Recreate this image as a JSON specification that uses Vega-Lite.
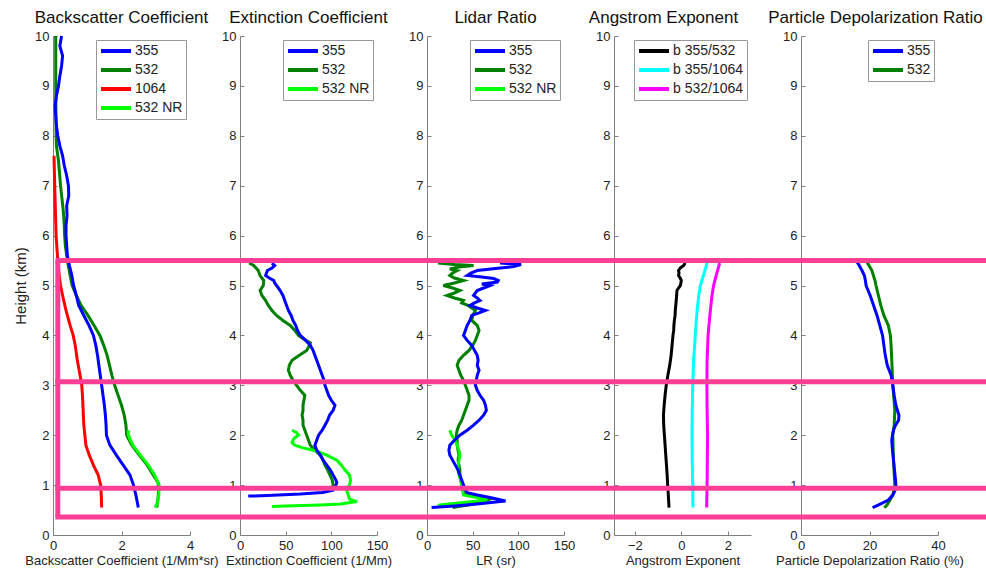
{
"$schema": "https://vega.github.io/schema/vega-lite/v6.json",
"padding": {"left": 13, "top": 9, "right": 0, "bottom": 2},
"bounds": "flush",
"spacing": 50,
"config": {
 "font": "Liberation Sans",
 "view": {"stroke": null},
 "axis": {"grid": false, "domainColor": "#7f7f7f", "tickColor": "#7f7f7f", "tickSize": -4, "labelPadding": 8, "labelFontSize": 13, "labelColor": "#222", "titleFontSize": 13, "titleFontWeight": "normal", "titleColor": "#222", "labelFlush": false, "labelOverlap": false},
 "axisY": {"titlePadding": 6, "titleFontSize": 15},
 "axisX": {"titlePadding": 2},
 "title": {"fontSize": 17, "fontWeight": "normal", "color": "#111", "offset": 3},
 "legend": {"orient": "top-right", "offset": 4, "fillColor": "white", "strokeColor": "#999", "padding": 3, "symbolType": "M-1,0H4", "symbolSize": 144, "symbolStrokeWidth": 4, "labelOffset": 20, "labelFontSize": 14, "labelColor": "#222", "rowPadding": 3}
},
"resolve": {"scale": {"color": "independent", "x": "independent"}, "legend": {"color": "independent"}},
"datasets": {
"pink": [
{"p":"bsc","x1":0.07,"x2":4,"h":5.5,"h2":5.5},{"p":"bsc","x1":0.07,"x2":4,"h":3.07,"h2":3.07},{"p":"bsc","x1":0.07,"x2":4,"h":0.935,"h2":0.935},{"p":"bsc","x1":0.07,"x2":4,"h":0.36,"h2":0.36},{"p":"bsc","x1":0.14,"x2":0.14,"h":0.36,"h2":5.5},
{"p":"ext","x1":-54.74,"x2":150,"h":5.5,"h2":5.5},{"p":"ext","x1":-54.74,"x2":150,"h":3.07,"h2":3.07},{"p":"ext","x1":-54.74,"x2":150,"h":0.935,"h2":0.935},{"p":"ext","x1":-54.74,"x2":150,"h":0.36,"h2":0.36},
{"p":"lr","x1":-54.74,"x2":150,"h":5.5,"h2":5.5},{"p":"lr","x1":-54.74,"x2":150,"h":3.07,"h2":3.07},{"p":"lr","x1":-54.74,"x2":150,"h":0.935,"h2":0.935},{"p":"lr","x1":-54.74,"x2":150,"h":0.36,"h2":0.36},
{"p":"ae","x1":-5.053,"x2":3,"h":5.5,"h2":5.5},{"p":"ae","x1":-5.053,"x2":3,"h":3.07,"h2":3.07},{"p":"ae","x1":-5.053,"x2":3,"h":0.935,"h2":0.935},{"p":"ae","x1":-5.053,"x2":3,"h":0.36,"h2":0.36},
{"p":"pdr","x1":-14.6,"x2":54.3,"h":5.5,"h2":5.5},{"p":"pdr","x1":-14.6,"x2":54.3,"h":3.07,"h2":3.07},{"p":"pdr","x1":-14.6,"x2":54.3,"h":0.935,"h2":0.935},{"p":"pdr","x1":-14.6,"x2":54.3,"h":0.36,"h2":0.36}
],
"prof": [
{"p":"bsc","s":"532","h":10,"v":0.08},{"p":"bsc","s":"532","h":9,"v":0.08},{"p":"bsc","s":"532","h":8,"v":0.09},{"p":"bsc","s":"532","h":7.8,"v":0.1},{"p":"bsc","s":"532","h":7.5,"v":0.16},{"p":"bsc","s":"532","h":7.0,"v":0.22},{"p":"bsc","s":"532","h":6.5,"v":0.3},{"p":"bsc","s":"532","h":6.2,"v":0.33},{"p":"bsc","s":"532","h":6.0,"v":0.34},{"p":"bsc","s":"532","h":5.8,"v":0.36},{"p":"bsc","s":"532","h":5.5,"v":0.42},{"p":"bsc","s":"532","h":5.2,"v":0.5},{"p":"bsc","s":"532","h":5.0,"v":0.56},{"p":"bsc","s":"532","h":4.8,"v":0.68},{"p":"bsc","s":"532","h":4.6,"v":0.82},{"p":"bsc","s":"532","h":4.4,"v":1.02},{"p":"bsc","s":"532","h":4.2,"v":1.2},{"p":"bsc","s":"532","h":4.0,"v":1.37},{"p":"bsc","s":"532","h":3.8,"v":1.48},{"p":"bsc","s":"532","h":3.6,"v":1.58},{"p":"bsc","s":"532","h":3.4,"v":1.65},{"p":"bsc","s":"532","h":3.2,"v":1.72},{"p":"bsc","s":"532","h":3.0,"v":1.8},{"p":"bsc","s":"532","h":2.8,"v":1.9},{"p":"bsc","s":"532","h":2.6,"v":2.0},{"p":"bsc","s":"532","h":2.4,"v":2.08},{"p":"bsc","s":"532","h":2.2,"v":2.13},{"p":"bsc","s":"532","h":2.0,"v":2.15},{"p":"bsc","s":"532","h":1.8,"v":2.3},{"p":"bsc","s":"532","h":1.6,"v":2.52},{"p":"bsc","s":"532","h":1.4,"v":2.75},{"p":"bsc","s":"532","h":1.2,"v":2.93},{"p":"bsc","s":"532","h":1.05,"v":3.07},{"p":"bsc","s":"532","h":0.9,"v":3.08},{"p":"bsc","s":"532","h":0.75,"v":3.07},{"p":"bsc","s":"532","h":0.55,"v":3.03},
{"p":"bsc","s":"532 NR","h":2.1,"v":2.2},{"p":"bsc","s":"532 NR","h":2.0,"v":2.2},{"p":"bsc","s":"532 NR","h":1.8,"v":2.33},{"p":"bsc","s":"532 NR","h":1.6,"v":2.55},{"p":"bsc","s":"532 NR","h":1.4,"v":2.78},{"p":"bsc","s":"532 NR","h":1.2,"v":2.97},{"p":"bsc","s":"532 NR","h":1.0,"v":3.1},{"p":"bsc","s":"532 NR","h":0.8,"v":3.09},{"p":"bsc","s":"532 NR","h":0.65,"v":3.05},{"p":"bsc","s":"532 NR","h":0.55,"v":2.98},
{"p":"bsc","s":"1064","h":7.6,"v":0.03},{"p":"bsc","s":"1064","h":7.0,"v":0.05},{"p":"bsc","s":"1064","h":6.5,"v":0.07},{"p":"bsc","s":"1064","h":6.0,"v":0.09},{"p":"bsc","s":"1064","h":5.5,"v":0.14},{"p":"bsc","s":"1064","h":5.2,"v":0.18},{"p":"bsc","s":"1064","h":5.0,"v":0.22},{"p":"bsc","s":"1064","h":4.8,"v":0.28},{"p":"bsc","s":"1064","h":4.5,"v":0.38},{"p":"bsc","s":"1064","h":4.2,"v":0.5},{"p":"bsc","s":"1064","h":4.0,"v":0.59},{"p":"bsc","s":"1064","h":3.8,"v":0.65},{"p":"bsc","s":"1064","h":3.5,"v":0.71},{"p":"bsc","s":"1064","h":3.2,"v":0.79},{"p":"bsc","s":"1064","h":3.0,"v":0.84},{"p":"bsc","s":"1064","h":2.8,"v":0.86},{"p":"bsc","s":"1064","h":2.5,"v":0.88},{"p":"bsc","s":"1064","h":2.2,"v":0.9},{"p":"bsc","s":"1064","h":2.0,"v":0.93},{"p":"bsc","s":"1064","h":1.8,"v":0.96},{"p":"bsc","s":"1064","h":1.6,"v":1.06},{"p":"bsc","s":"1064","h":1.4,"v":1.18},{"p":"bsc","s":"1064","h":1.2,"v":1.32},{"p":"bsc","s":"1064","h":1.0,"v":1.39},{"p":"bsc","s":"1064","h":0.8,"v":1.41},{"p":"bsc","s":"1064","h":0.55,"v":1.42},
{"p":"bsc","s":"355","h":10,"v":0.25},{"p":"bsc","s":"355","h":9.8,"v":0.2},{"p":"bsc","s":"355","h":9.6,"v":0.28},{"p":"bsc","s":"355","h":9.4,"v":0.25},{"p":"bsc","s":"355","h":9.2,"v":0.2},{"p":"bsc","s":"355","h":9.0,"v":0.16},{"p":"bsc","s":"355","h":8.8,"v":0.1},{"p":"bsc","s":"355","h":8.6,"v":0.06},{"p":"bsc","s":"355","h":8.4,"v":0.08},{"p":"bsc","s":"355","h":8.2,"v":0.1},{"p":"bsc","s":"355","h":8.0,"v":0.14},{"p":"bsc","s":"355","h":7.8,"v":0.2},{"p":"bsc","s":"355","h":7.6,"v":0.28},{"p":"bsc","s":"355","h":7.4,"v":0.33},{"p":"bsc","s":"355","h":7.2,"v":0.4},{"p":"bsc","s":"355","h":7.0,"v":0.45},{"p":"bsc","s":"355","h":6.8,"v":0.46},{"p":"bsc","s":"355","h":6.6,"v":0.4},{"p":"bsc","s":"355","h":6.4,"v":0.41},{"p":"bsc","s":"355","h":6.2,"v":0.38},{"p":"bsc","s":"355","h":6.0,"v":0.38},{"p":"bsc","s":"355","h":5.8,"v":0.4},{"p":"bsc","s":"355","h":5.6,"v":0.42},{"p":"bsc","s":"355","h":5.4,"v":0.48},{"p":"bsc","s":"355","h":5.2,"v":0.55},{"p":"bsc","s":"355","h":5.0,"v":0.6},{"p":"bsc","s":"355","h":4.8,"v":0.68},{"p":"bsc","s":"355","h":4.6,"v":0.75},{"p":"bsc","s":"355","h":4.4,"v":0.9},{"p":"bsc","s":"355","h":4.2,"v":1.05},{"p":"bsc","s":"355","h":4.0,"v":1.18},{"p":"bsc","s":"355","h":3.8,"v":1.25},{"p":"bsc","s":"355","h":3.6,"v":1.3},{"p":"bsc","s":"355","h":3.4,"v":1.34},{"p":"bsc","s":"355","h":3.2,"v":1.38},{"p":"bsc","s":"355","h":3.0,"v":1.42},{"p":"bsc","s":"355","h":2.8,"v":1.46},{"p":"bsc","s":"355","h":2.6,"v":1.5},{"p":"bsc","s":"355","h":2.4,"v":1.53},{"p":"bsc","s":"355","h":2.2,"v":1.55},{"p":"bsc","s":"355","h":2.0,"v":1.56},{"p":"bsc","s":"355","h":1.8,"v":1.66},{"p":"bsc","s":"355","h":1.6,"v":1.85},{"p":"bsc","s":"355","h":1.4,"v":2.05},{"p":"bsc","s":"355","h":1.2,"v":2.25},{"p":"bsc","s":"355","h":1.0,"v":2.35},{"p":"bsc","s":"355","h":0.8,"v":2.42},{"p":"bsc","s":"355","h":0.55,"v":2.49},

{"p":"ext","s":"532","h":5.45,"v":10},{"p":"ext","s":"532","h":5.4,"v":15},{"p":"ext","s":"532","h":5.3,"v":20},{"p":"ext","s":"532","h":5.2,"v":22},{"p":"ext","s":"532","h":5.1,"v":26},{"p":"ext","s":"532","h":5.0,"v":25.5},{"p":"ext","s":"532","h":4.9,"v":22},{"p":"ext","s":"532","h":4.8,"v":24},{"p":"ext","s":"532","h":4.7,"v":28},{"p":"ext","s":"532","h":4.6,"v":31},{"p":"ext","s":"532","h":4.5,"v":35},{"p":"ext","s":"532","h":4.4,"v":40},{"p":"ext","s":"532","h":4.3,"v":47},{"p":"ext","s":"532","h":4.2,"v":55},{"p":"ext","s":"532","h":4.1,"v":60},{"p":"ext","s":"532","h":4.0,"v":64},{"p":"ext","s":"532","h":3.9,"v":72},{"p":"ext","s":"532","h":3.85,"v":77},{"p":"ext","s":"532","h":3.8,"v":76},{"p":"ext","s":"532","h":3.7,"v":73},{"p":"ext","s":"532","h":3.6,"v":65},{"p":"ext","s":"532","h":3.5,"v":57},{"p":"ext","s":"532","h":3.4,"v":54},{"p":"ext","s":"532","h":3.3,"v":53},{"p":"ext","s":"532","h":3.2,"v":55},{"p":"ext","s":"532","h":3.1,"v":58},{"p":"ext","s":"532","h":3.0,"v":62},{"p":"ext","s":"532","h":2.9,"v":66},{"p":"ext","s":"532","h":2.8,"v":71},{"p":"ext","s":"532","h":2.7,"v":70},{"p":"ext","s":"532","h":2.6,"v":69},{"p":"ext","s":"532","h":2.5,"v":69},{"p":"ext","s":"532","h":2.4,"v":68},{"p":"ext","s":"532","h":2.3,"v":69},{"p":"ext","s":"532","h":2.2,"v":69},{"p":"ext","s":"532","h":2.1,"v":71},{"p":"ext","s":"532","h":2.0,"v":73},{"p":"ext","s":"532","h":1.9,"v":75},{"p":"ext","s":"532","h":1.8,"v":77},{"p":"ext","s":"532","h":1.7,"v":82},{"p":"ext","s":"532","h":1.6,"v":88},{"p":"ext","s":"532","h":1.5,"v":91},{"p":"ext","s":"532","h":1.4,"v":93},{"p":"ext","s":"532","h":1.3,"v":96},{"p":"ext","s":"532","h":1.2,"v":98.5},{"p":"ext","s":"532","h":1.1,"v":101},{"p":"ext","s":"532","h":1.0,"v":102},{"p":"ext","s":"532","h":0.9,"v":99},{"p":"ext","s":"532","h":0.85,"v":90},
{"p":"ext","s":"532 NR","h":2.1,"v":57},{"p":"ext","s":"532 NR","h":2.05,"v":62},{"p":"ext","s":"532 NR","h":2.0,"v":64},{"p":"ext","s":"532 NR","h":1.95,"v":60},{"p":"ext","s":"532 NR","h":1.9,"v":58},{"p":"ext","s":"532 NR","h":1.85,"v":57},{"p":"ext","s":"532 NR","h":1.8,"v":60},{"p":"ext","s":"532 NR","h":1.75,"v":68},{"p":"ext","s":"532 NR","h":1.7,"v":80},{"p":"ext","s":"532 NR","h":1.65,"v":88},{"p":"ext","s":"532 NR","h":1.6,"v":95},{"p":"ext","s":"532 NR","h":1.5,"v":106},{"p":"ext","s":"532 NR","h":1.4,"v":111},{"p":"ext","s":"532 NR","h":1.3,"v":115},{"p":"ext","s":"532 NR","h":1.2,"v":120},{"p":"ext","s":"532 NR","h":1.1,"v":121},{"p":"ext","s":"532 NR","h":1.0,"v":120},{"p":"ext","s":"532 NR","h":0.95,"v":117},{"p":"ext","s":"532 NR","h":0.88,"v":117},{"p":"ext","s":"532 NR","h":0.8,"v":118.5},{"p":"ext","s":"532 NR","h":0.72,"v":120},{"p":"ext","s":"532 NR","h":0.67,"v":128},{"p":"ext","s":"532 NR","h":0.62,"v":110},{"p":"ext","s":"532 NR","h":0.6,"v":88},{"p":"ext","s":"532 NR","h":0.58,"v":50},{"p":"ext","s":"532 NR","h":0.57,"v":35},
{"p":"ext","s":"355","h":5.45,"v":35},{"p":"ext","s":"355","h":5.4,"v":38},{"p":"ext","s":"355","h":5.35,"v":35},{"p":"ext","s":"355","h":5.3,"v":30},{"p":"ext","s":"355","h":5.2,"v":28},{"p":"ext","s":"355","h":5.15,"v":32},{"p":"ext","s":"355","h":5.1,"v":37},{"p":"ext","s":"355","h":5.05,"v":38},{"p":"ext","s":"355","h":5.0,"v":40},{"p":"ext","s":"355","h":4.9,"v":44},{"p":"ext","s":"355","h":4.8,"v":47},{"p":"ext","s":"355","h":4.7,"v":49},{"p":"ext","s":"355","h":4.6,"v":51},{"p":"ext","s":"355","h":4.5,"v":53},{"p":"ext","s":"355","h":4.4,"v":56},{"p":"ext","s":"355","h":4.3,"v":58},{"p":"ext","s":"355","h":4.2,"v":61},{"p":"ext","s":"355","h":4.1,"v":63},{"p":"ext","s":"355","h":4.0,"v":66},{"p":"ext","s":"355","h":3.9,"v":72},{"p":"ext","s":"355","h":3.8,"v":77},{"p":"ext","s":"355","h":3.7,"v":80},{"p":"ext","s":"355","h":3.6,"v":82},{"p":"ext","s":"355","h":3.5,"v":84},{"p":"ext","s":"355","h":3.4,"v":86},{"p":"ext","s":"355","h":3.3,"v":88},{"p":"ext","s":"355","h":3.2,"v":90},{"p":"ext","s":"355","h":3.1,"v":92},{"p":"ext","s":"355","h":3.0,"v":93},{"p":"ext","s":"355","h":2.9,"v":95},{"p":"ext","s":"355","h":2.8,"v":97},{"p":"ext","s":"355","h":2.7,"v":100},{"p":"ext","s":"355","h":2.6,"v":104},{"p":"ext","s":"355","h":2.5,"v":102},{"p":"ext","s":"355","h":2.4,"v":98},{"p":"ext","s":"355","h":2.3,"v":96},{"p":"ext","s":"355","h":2.2,"v":93},{"p":"ext","s":"355","h":2.1,"v":90},{"p":"ext","s":"355","h":2.0,"v":86},{"p":"ext","s":"355","h":1.9,"v":84},{"p":"ext","s":"355","h":1.8,"v":82},{"p":"ext","s":"355","h":1.7,"v":84},{"p":"ext","s":"355","h":1.6,"v":88},{"p":"ext","s":"355","h":1.5,"v":91},{"p":"ext","s":"355","h":1.4,"v":95},{"p":"ext","s":"355","h":1.3,"v":99},{"p":"ext","s":"355","h":1.2,"v":102},{"p":"ext","s":"355","h":1.1,"v":105},{"p":"ext","s":"355","h":1.05,"v":106},{"p":"ext","s":"355","h":1.0,"v":105},{"p":"ext","s":"355","h":0.9,"v":102},{"p":"ext","s":"355","h":0.85,"v":90},{"p":"ext","s":"355","h":0.82,"v":66},{"p":"ext","s":"355","h":0.79,"v":30},{"p":"ext","s":"355","h":0.78,"v":9},

{"p":"lr","s":"532","h":5.45,"v":12},{"p":"lr","s":"532","h":5.42,"v":30},{"p":"lr","s":"532","h":5.4,"v":51},{"p":"lr","s":"532","h":5.37,"v":35},{"p":"lr","s":"532","h":5.33,"v":25},{"p":"lr","s":"532","h":5.3,"v":33},{"p":"lr","s":"532","h":5.25,"v":28},{"p":"lr","s":"532","h":5.2,"v":25},{"p":"lr","s":"532","h":5.15,"v":30},{"p":"lr","s":"532","h":5.1,"v":40},{"p":"lr","s":"532","h":5.05,"v":30},{"p":"lr","s":"532","h":5.0,"v":18},{"p":"lr","s":"532","h":4.95,"v":28},{"p":"lr","s":"532","h":4.9,"v":36},{"p":"lr","s":"532","h":4.85,"v":30},{"p":"lr","s":"532","h":4.8,"v":22},{"p":"lr","s":"532","h":4.75,"v":30},{"p":"lr","s":"532","h":4.7,"v":40},{"p":"lr","s":"532","h":4.65,"v":38},{"p":"lr","s":"532","h":4.6,"v":45},{"p":"lr","s":"532","h":4.5,"v":53},{"p":"lr","s":"532","h":4.4,"v":50},{"p":"lr","s":"532","h":4.3,"v":49},{"p":"lr","s":"532","h":4.2,"v":55},{"p":"lr","s":"532","h":4.1,"v":57},{"p":"lr","s":"532","h":4.0,"v":55},{"p":"lr","s":"532","h":3.9,"v":53},{"p":"lr","s":"532","h":3.8,"v":50},{"p":"lr","s":"532","h":3.7,"v":46},{"p":"lr","s":"532","h":3.6,"v":40},{"p":"lr","s":"532","h":3.5,"v":35},{"p":"lr","s":"532","h":3.4,"v":33},{"p":"lr","s":"532","h":3.3,"v":35},{"p":"lr","s":"532","h":3.2,"v":37},{"p":"lr","s":"532","h":3.1,"v":40},{"p":"lr","s":"532","h":3.0,"v":42},{"p":"lr","s":"532","h":2.9,"v":44},{"p":"lr","s":"532","h":2.8,"v":46},{"p":"lr","s":"532","h":2.7,"v":46},{"p":"lr","s":"532","h":2.6,"v":44},{"p":"lr","s":"532","h":2.5,"v":42},{"p":"lr","s":"532","h":2.4,"v":40},{"p":"lr","s":"532","h":2.3,"v":38},{"p":"lr","s":"532","h":2.2,"v":35},{"p":"lr","s":"532","h":2.1,"v":33},{"p":"lr","s":"532","h":2.0,"v":32},{"p":"lr","s":"532","h":1.9,"v":33},{"p":"lr","s":"532","h":1.8,"v":33},{"p":"lr","s":"532","h":1.7,"v":34},{"p":"lr","s":"532","h":1.6,"v":35},{"p":"lr","s":"532","h":1.5,"v":34},{"p":"lr","s":"532","h":1.4,"v":35},{"p":"lr","s":"532","h":1.3,"v":36},{"p":"lr","s":"532","h":1.2,"v":36},{"p":"lr","s":"532","h":1.1,"v":37},{"p":"lr","s":"532","h":1.0,"v":38},{"p":"lr","s":"532","h":0.9,"v":39},{"p":"lr","s":"532","h":0.85,"v":40},{"p":"lr","s":"532","h":0.78,"v":55},{"p":"lr","s":"532","h":0.72,"v":69},{"p":"lr","s":"532","h":0.66,"v":60},{"p":"lr","s":"532","h":0.6,"v":45},{"p":"lr","s":"532","h":0.55,"v":28},
{"p":"lr","s":"532 NR","h":2.1,"v":25},{"p":"lr","s":"532 NR","h":2.0,"v":27},{"p":"lr","s":"532 NR","h":1.9,"v":31},{"p":"lr","s":"532 NR","h":1.8,"v":33},{"p":"lr","s":"532 NR","h":1.7,"v":35},{"p":"lr","s":"532 NR","h":1.6,"v":36},{"p":"lr","s":"532 NR","h":1.5,"v":35},{"p":"lr","s":"532 NR","h":1.4,"v":34},{"p":"lr","s":"532 NR","h":1.3,"v":34},{"p":"lr","s":"532 NR","h":1.2,"v":35},{"p":"lr","s":"532 NR","h":1.1,"v":37},{"p":"lr","s":"532 NR","h":1.0,"v":38},{"p":"lr","s":"532 NR","h":0.9,"v":39},{"p":"lr","s":"532 NR","h":0.8,"v":40},{"p":"lr","s":"532 NR","h":0.75,"v":55},{"p":"lr","s":"532 NR","h":0.7,"v":66},{"p":"lr","s":"532 NR","h":0.65,"v":40},{"p":"lr","s":"532 NR","h":0.6,"v":14},{"p":"lr","s":"532 NR","h":0.58,"v":12},
{"p":"lr","s":"355","h":5.45,"v":80},{"p":"lr","s":"355","h":5.42,"v":103},{"p":"lr","s":"355","h":5.38,"v":95},{"p":"lr","s":"355","h":5.33,"v":70},{"p":"lr","s":"355","h":5.3,"v":55},{"p":"lr","s":"355","h":5.25,"v":48},{"p":"lr","s":"355","h":5.2,"v":44},{"p":"lr","s":"355","h":5.17,"v":60},{"p":"lr","s":"355","h":5.14,"v":73},{"p":"lr","s":"355","h":5.1,"v":78},{"p":"lr","s":"355","h":5.07,"v":77},{"p":"lr","s":"355","h":5.03,"v":60},{"p":"lr","s":"355","h":5.0,"v":69},{"p":"lr","s":"355","h":4.95,"v":62},{"p":"lr","s":"355","h":4.9,"v":55},{"p":"lr","s":"355","h":4.85,"v":53},{"p":"lr","s":"355","h":4.8,"v":51},{"p":"lr","s":"355","h":4.75,"v":55},{"p":"lr","s":"355","h":4.7,"v":58},{"p":"lr","s":"355","h":4.65,"v":52},{"p":"lr","s":"355","h":4.6,"v":47},{"p":"lr","s":"355","h":4.55,"v":55},{"p":"lr","s":"355","h":4.5,"v":64},{"p":"lr","s":"355","h":4.45,"v":57},{"p":"lr","s":"355","h":4.4,"v":49},{"p":"lr","s":"355","h":4.3,"v":47},{"p":"lr","s":"355","h":4.2,"v":44},{"p":"lr","s":"355","h":4.1,"v":42},{"p":"lr","s":"355","h":4.0,"v":40},{"p":"lr","s":"355","h":3.9,"v":44},{"p":"lr","s":"355","h":3.8,"v":49},{"p":"lr","s":"355","h":3.7,"v":52},{"p":"lr","s":"355","h":3.6,"v":55},{"p":"lr","s":"355","h":3.5,"v":56},{"p":"lr","s":"355","h":3.4,"v":55},{"p":"lr","s":"355","h":3.3,"v":57},{"p":"lr","s":"355","h":3.2,"v":55},{"p":"lr","s":"355","h":3.1,"v":54},{"p":"lr","s":"355","h":3.0,"v":53},{"p":"lr","s":"355","h":2.9,"v":55},{"p":"lr","s":"355","h":2.8,"v":58},{"p":"lr","s":"355","h":2.7,"v":62},{"p":"lr","s":"355","h":2.6,"v":64},{"p":"lr","s":"355","h":2.5,"v":65},{"p":"lr","s":"355","h":2.4,"v":62},{"p":"lr","s":"355","h":2.3,"v":57},{"p":"lr","s":"355","h":2.2,"v":51},{"p":"lr","s":"355","h":2.1,"v":44},{"p":"lr","s":"355","h":2.0,"v":36},{"p":"lr","s":"355","h":1.9,"v":30},{"p":"lr","s":"355","h":1.8,"v":25},{"p":"lr","s":"355","h":1.7,"v":24},{"p":"lr","s":"355","h":1.6,"v":25},{"p":"lr","s":"355","h":1.5,"v":28},{"p":"lr","s":"355","h":1.4,"v":31},{"p":"lr","s":"355","h":1.3,"v":34},{"p":"lr","s":"355","h":1.2,"v":36},{"p":"lr","s":"355","h":1.1,"v":38},{"p":"lr","s":"355","h":1.0,"v":40},{"p":"lr","s":"355","h":0.9,"v":42},{"p":"lr","s":"355","h":0.85,"v":44},{"p":"lr","s":"355","h":0.8,"v":55},{"p":"lr","s":"355","h":0.75,"v":69},{"p":"lr","s":"355","h":0.68,"v":86},{"p":"lr","s":"355","h":0.65,"v":70},{"p":"lr","s":"355","h":0.62,"v":55},{"p":"lr","s":"355","h":0.58,"v":30},{"p":"lr","s":"355","h":0.55,"v":5},

{"p":"ae","s":"b 355/532","h":5.45,"v":0.17},{"p":"ae","s":"b 355/532","h":5.4,"v":0.1},{"p":"ae","s":"b 355/532","h":5.35,"v":-0.05},{"p":"ae","s":"b 355/532","h":5.3,"v":-0.12},{"p":"ae","s":"b 355/532","h":5.25,"v":-0.1},{"p":"ae","s":"b 355/532","h":5.2,"v":-0.12},{"p":"ae","s":"b 355/532","h":5.15,"v":-0.05},{"p":"ae","s":"b 355/532","h":5.1,"v":0.0},{"p":"ae","s":"b 355/532","h":5.05,"v":-0.02},{"p":"ae","s":"b 355/532","h":5.0,"v":-0.04},{"p":"ae","s":"b 355/532","h":4.95,"v":-0.12},{"p":"ae","s":"b 355/532","h":4.9,"v":-0.19},{"p":"ae","s":"b 355/532","h":4.8,"v":-0.2},{"p":"ae","s":"b 355/532","h":4.7,"v":-0.22},{"p":"ae","s":"b 355/532","h":4.6,"v":-0.24},{"p":"ae","s":"b 355/532","h":4.5,"v":-0.26},{"p":"ae","s":"b 355/532","h":4.4,"v":-0.27},{"p":"ae","s":"b 355/532","h":4.3,"v":-0.3},{"p":"ae","s":"b 355/532","h":4.2,"v":-0.32},{"p":"ae","s":"b 355/532","h":4.1,"v":-0.33},{"p":"ae","s":"b 355/532","h":4.0,"v":-0.36},{"p":"ae","s":"b 355/532","h":3.8,"v":-0.4},{"p":"ae","s":"b 355/532","h":3.6,"v":-0.44},{"p":"ae","s":"b 355/532","h":3.4,"v":-0.5},{"p":"ae","s":"b 355/532","h":3.2,"v":-0.58},{"p":"ae","s":"b 355/532","h":3.0,"v":-0.65},{"p":"ae","s":"b 355/532","h":2.8,"v":-0.7},{"p":"ae","s":"b 355/532","h":2.6,"v":-0.74},{"p":"ae","s":"b 355/532","h":2.4,"v":-0.77},{"p":"ae","s":"b 355/532","h":2.2,"v":-0.76},{"p":"ae","s":"b 355/532","h":2.0,"v":-0.73},{"p":"ae","s":"b 355/532","h":1.8,"v":-0.7},{"p":"ae","s":"b 355/532","h":1.6,"v":-0.67},{"p":"ae","s":"b 355/532","h":1.4,"v":-0.64},{"p":"ae","s":"b 355/532","h":1.2,"v":-0.61},{"p":"ae","s":"b 355/532","h":1.0,"v":-0.59},{"p":"ae","s":"b 355/532","h":0.8,"v":-0.56},{"p":"ae","s":"b 355/532","h":0.55,"v":-0.53},
{"p":"ae","s":"b 355/1064","h":5.45,"v":1.11},{"p":"ae","s":"b 355/1064","h":5.2,"v":0.95},{"p":"ae","s":"b 355/1064","h":5.0,"v":0.82},{"p":"ae","s":"b 355/1064","h":4.8,"v":0.75},{"p":"ae","s":"b 355/1064","h":4.5,"v":0.68},{"p":"ae","s":"b 355/1064","h":4.2,"v":0.63},{"p":"ae","s":"b 355/1064","h":4.0,"v":0.6},{"p":"ae","s":"b 355/1064","h":3.5,"v":0.53},{"p":"ae","s":"b 355/1064","h":3.0,"v":0.49},{"p":"ae","s":"b 355/1064","h":2.5,"v":0.47},{"p":"ae","s":"b 355/1064","h":2.0,"v":0.46},{"p":"ae","s":"b 355/1064","h":1.5,"v":0.47},{"p":"ae","s":"b 355/1064","h":1.0,"v":0.49},{"p":"ae","s":"b 355/1064","h":0.55,"v":0.5},
{"p":"ae","s":"b 532/1064","h":5.45,"v":1.65},{"p":"ae","s":"b 532/1064","h":5.2,"v":1.5},{"p":"ae","s":"b 532/1064","h":5.0,"v":1.39},{"p":"ae","s":"b 532/1064","h":4.8,"v":1.32},{"p":"ae","s":"b 532/1064","h":4.5,"v":1.25},{"p":"ae","s":"b 532/1064","h":4.2,"v":1.19},{"p":"ae","s":"b 532/1064","h":4.0,"v":1.15},{"p":"ae","s":"b 532/1064","h":3.5,"v":1.11},{"p":"ae","s":"b 532/1064","h":3.0,"v":1.1},{"p":"ae","s":"b 532/1064","h":2.5,"v":1.11},{"p":"ae","s":"b 532/1064","h":2.0,"v":1.13},{"p":"ae","s":"b 532/1064","h":1.5,"v":1.12},{"p":"ae","s":"b 532/1064","h":1.0,"v":1.11},{"p":"ae","s":"b 532/1064","h":0.55,"v":1.09},

{"p":"pdr","s":"532","h":5.5,"v":19},{"p":"pdr","s":"532","h":5.3,"v":20.7},{"p":"pdr","s":"532","h":5.1,"v":21.6},{"p":"pdr","s":"532","h":5.0,"v":21.9},{"p":"pdr","s":"532","h":4.8,"v":22.6},{"p":"pdr","s":"532","h":4.6,"v":23.3},{"p":"pdr","s":"532","h":4.4,"v":24.2},{"p":"pdr","s":"532","h":4.2,"v":25.5},{"p":"pdr","s":"532","h":4.0,"v":26.1},{"p":"pdr","s":"532","h":3.8,"v":26.3},{"p":"pdr","s":"532","h":3.5,"v":26.5},{"p":"pdr","s":"532","h":3.0,"v":26.8},{"p":"pdr","s":"532","h":2.5,"v":27.4},{"p":"pdr","s":"532","h":2.2,"v":27.2},{"p":"pdr","s":"532","h":2.0,"v":26.8},{"p":"pdr","s":"532","h":1.5,"v":27.0},{"p":"pdr","s":"532","h":1.0,"v":27.4},{"p":"pdr","s":"532","h":0.8,"v":26.8},{"p":"pdr","s":"532","h":0.7,"v":26.0},{"p":"pdr","s":"532","h":0.6,"v":25.1},{"p":"pdr","s":"532","h":0.55,"v":24.3},
{"p":"pdr","s":"355","h":5.5,"v":16.1},{"p":"pdr","s":"355","h":5.4,"v":17},{"p":"pdr","s":"355","h":5.3,"v":17.8},{"p":"pdr","s":"355","h":5.2,"v":18.5},{"p":"pdr","s":"355","h":5.1,"v":18.8},{"p":"pdr","s":"355","h":5.0,"v":19.0},{"p":"pdr","s":"355","h":4.8,"v":20.2},{"p":"pdr","s":"355","h":4.6,"v":21.2},{"p":"pdr","s":"355","h":4.4,"v":22.2},{"p":"pdr","s":"355","h":4.2,"v":23.0},{"p":"pdr","s":"355","h":4.0,"v":23.8},{"p":"pdr","s":"355","h":3.8,"v":24.2},{"p":"pdr","s":"355","h":3.6,"v":24.6},{"p":"pdr","s":"355","h":3.4,"v":25.2},{"p":"pdr","s":"355","h":3.2,"v":26.3},{"p":"pdr","s":"355","h":3.0,"v":26.8},{"p":"pdr","s":"355","h":2.8,"v":27.2},{"p":"pdr","s":"355","h":2.6,"v":27.7},{"p":"pdr","s":"355","h":2.4,"v":28.6},{"p":"pdr","s":"355","h":2.3,"v":28.5},{"p":"pdr","s":"355","h":2.2,"v":27.6},{"p":"pdr","s":"355","h":2.1,"v":27.0},{"p":"pdr","s":"355","h":2.0,"v":26.7},{"p":"pdr","s":"355","h":1.9,"v":26.5},{"p":"pdr","s":"355","h":1.7,"v":26.7},{"p":"pdr","s":"355","h":1.5,"v":27.0},{"p":"pdr","s":"355","h":1.3,"v":27.3},{"p":"pdr","s":"355","h":1.1,"v":27.6},{"p":"pdr","s":"355","h":1.0,"v":27.7},{"p":"pdr","s":"355","h":0.9,"v":27.5},{"p":"pdr","s":"355","h":0.8,"v":26.8},{"p":"pdr","s":"355","h":0.7,"v":25.5},{"p":"pdr","s":"355","h":0.65,"v":24.0},{"p":"pdr","s":"355","h":0.6,"v":22.5},{"p":"pdr","s":"355","h":0.55,"v":20.9}
]},
"hconcat": [
{"width": 137, "height": 499, "title": "Backscatter Coefficient",
 "layer": [
  {"data": {"name": "prof"}, "transform": [{"filter": "datum.p == 'bsc'"}], "mark": {"type": "line", "strokeWidth": 3},
   "encoding": {
    "x": {"field": "v", "type": "quantitative", "title": "Backscatter Coefficient (1/Mm*sr)", "scale": {"domain": [0, 4], "nice": false}, "axis": {"values": [0, 2, 4]}},
    "y": {"field": "h", "type": "quantitative", "title": "Height (km)", "scale": {"domain": [0, 10], "nice": false}, "axis": {"values": [0,1,2,3,4,5,6,7,8,9,10]}},
    "color": {"field": "s", "type": "nominal", "scale": {"domain": ["355","532","1064","532 NR"], "range": ["#0000ff","#008000","#ff0000","#00ff00"]}, "legend": {"title": null}},
    "order": {"field": "h", "type": "quantitative"}}},
  {"data": {"name": "pink"}, "transform": [{"filter": "datum.p == 'bsc'"}], "mark": {"type": "rule", "color": "#fb3f96", "strokeWidth": 5, "clip": false},
   "encoding": {"x": {"field": "x1", "type": "quantitative", "title": "Backscatter Coefficient (1/Mm*sr)"}, "x2": {"field": "x2"}, "y": {"field": "h", "type": "quantitative", "title": "Height (km)"}, "y2": {"field": "h2"}}}
 ]},
{"width": 137, "height": 499, "title": "Extinction Coefficient",
 "layer": [
  {"data": {"name": "prof"}, "transform": [{"filter": "datum.p == 'ext'"}], "mark": {"type": "line", "strokeWidth": 3},
   "encoding": {
    "x": {"field": "v", "type": "quantitative", "title": "Extinction Coefficient (1/Mm)", "scale": {"domain": [0, 150], "nice": false}, "axis": {"values": [0, 50, 100, 150]}},
    "y": {"field": "h", "type": "quantitative", "title": null, "scale": {"domain": [0, 10], "nice": false}, "axis": {"values": [0,1,2,3,4,5,6,7,8,9,10]}},
    "color": {"field": "s", "type": "nominal", "scale": {"domain": ["355","532","532 NR"], "range": ["#0000ff","#008000","#00ff00"]}, "legend": {"title": null}},
    "order": {"field": "h", "type": "quantitative"}}},
  {"data": {"name": "pink"}, "transform": [{"filter": "datum.p == 'ext'"}], "mark": {"type": "rule", "color": "#fb3f96", "strokeWidth": 5, "clip": false},
   "encoding": {"x": {"field": "x1", "type": "quantitative", "title": "Extinction Coefficient (1/Mm)"}, "x2": {"field": "x2"}, "y": {"field": "h", "type": "quantitative", "title": null}, "y2": {"field": "h2"}}}
 ]},
{"width": 137, "height": 499, "title": "Lidar Ratio",
 "layer": [
  {"data": {"name": "prof"}, "transform": [{"filter": "datum.p == 'lr'"}], "mark": {"type": "line", "strokeWidth": 3},
   "encoding": {
    "x": {"field": "v", "type": "quantitative", "title": "LR (sr)", "scale": {"domain": [0, 150], "nice": false}, "axis": {"values": [0, 50, 100, 150]}},
    "y": {"field": "h", "type": "quantitative", "title": null, "scale": {"domain": [0, 10], "nice": false}, "axis": {"values": [0,1,2,3,4,5,6,7,8,9,10]}},
    "color": {"field": "s", "type": "nominal", "scale": {"domain": ["355","532","532 NR"], "range": ["#0000ff","#008000","#00ff00"]}, "legend": {"title": null}},
    "order": {"field": "h", "type": "quantitative"}}},
  {"data": {"name": "pink"}, "transform": [{"filter": "datum.p == 'lr'"}], "mark": {"type": "rule", "color": "#fb3f96", "strokeWidth": 5, "clip": false},
   "encoding": {"x": {"field": "x1", "type": "quantitative", "title": "LR (sr)"}, "x2": {"field": "x2"}, "y": {"field": "h", "type": "quantitative", "title": null}, "y2": {"field": "h2"}}}
 ]},
{"width": 137, "height": 499, "title": {"text": "Angstrom Exponent", "dx": -19},
 "layer": [
  {"data": {"name": "prof"}, "transform": [{"filter": "datum.p == 'ae'"}], "mark": {"type": "line", "strokeWidth": 3},
   "encoding": {
    "x": {"field": "v", "type": "quantitative", "title": "Angstrom Exponent", "scale": {"domain": [-2.9, 3], "nice": false, "zero": false}, "axis": {"values": [-2, 0, 2]}},
    "y": {"field": "h", "type": "quantitative", "title": null, "scale": {"domain": [0, 10], "nice": false}, "axis": {"values": [0,1,2,3,4,5,6,7,8,9,10]}},
    "color": {"field": "s", "type": "nominal", "scale": {"domain": ["b 355/532","b 355/1064","b 532/1064"], "range": ["#000000","#00ffff","#ff00ff"]}, "legend": {"title": null}},
    "order": {"field": "h", "type": "quantitative"}}},
  {"data": {"name": "pink"}, "transform": [{"filter": "datum.p == 'ae'"}], "mark": {"type": "rule", "color": "#fb3f96", "strokeWidth": 5, "clip": false},
   "encoding": {"x": {"field": "x1", "type": "quantitative", "title": "Angstrom Exponent"}, "x2": {"field": "x2"}, "y": {"field": "h", "type": "quantitative", "title": null}, "y2": {"field": "h2"}}}
 ]},
{"width": 137, "height": 499, "title": {"text": "Particle Depolarization Ratio", "dx": 6},
 "layer": [
  {"data": {"name": "prof"}, "transform": [{"filter": "datum.p == 'pdr'"}], "mark": {"type": "line", "strokeWidth": 3},
   "encoding": {
    "x": {"field": "v", "type": "quantitative", "title": "Particle Depolarization Ratio (%)", "scale": {"domain": [0, 40], "nice": false}, "axis": {"values": [0, 20, 40]}},
    "y": {"field": "h", "type": "quantitative", "title": null, "scale": {"domain": [0, 10], "nice": false}, "axis": {"values": [0,1,2,3,4,5,6,7,8,9,10]}},
    "color": {"field": "s", "type": "nominal", "scale": {"domain": ["355","532"], "range": ["#0000ff","#008000"]}, "legend": {"title": null}},
    "order": {"field": "h", "type": "quantitative"}}},
  {"data": {"name": "pink"}, "transform": [{"filter": "datum.p == 'pdr'"}], "mark": {"type": "rule", "color": "#fb3f96", "strokeWidth": 5, "clip": false},
   "encoding": {"x": {"field": "x1", "type": "quantitative", "title": "Particle Depolarization Ratio (%)"}, "x2": {"field": "x2"}, "y": {"field": "h", "type": "quantitative", "title": null}, "y2": {"field": "h2"}}}
 ]}
]
}
